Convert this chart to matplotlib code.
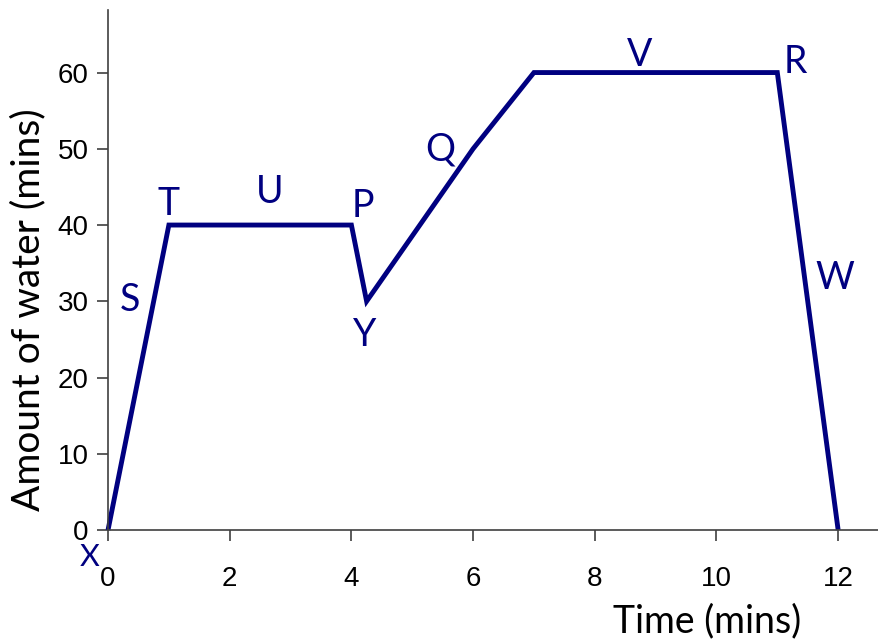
import matplotlib
matplotlib.use("Agg")
import matplotlib.pyplot as plt

# water level over time
time = [0, 1, 4, 4.25, 6, 7, 11, 12]
water = [0, 40, 40, 30, 50, 60, 60, 0]

x_ticks = [0, 2, 4, 6, 8, 10, 12]
y_ticks = [0, 10, 20, 30, 40, 50, 60]

point_names = ["X", "S", "T", "U", "P", "Y", "Q", "V", "R", "W"]

navy = "#000080"
label_font = ["Lato", "DejaVu Sans"]
tick_font = ["Liberation Sans", "DejaVu Sans"]

fig = plt.figure(figsize=(8.79, 6.43), dpi=100)
ax = fig.add_axes([0.1229, 0.1757, 0.877, 0.8087])

ax.plot(time, water, color=navy, linewidth=3.5, solid_joinstyle="miter",
        solid_capstyle="butt", clip_on=False)

ax.set_xlim(0, 12.67)
ax.set_ylim(0, 68.2)
ax.set_xticks(x_ticks)
ax.set_yticks(y_ticks)

for side in ("top", "right"):
    ax.spines[side].set_visible(False)
for side in ("left", "bottom"):
    ax.spines[side].set_color("#404040")
    ax.spines[side].set_linewidth(1.2)
ax.tick_params(axis="both", direction="out", length=8, width=1.2,
               color="#404040", labelsize=20)
ax.tick_params(axis="x", pad=18)
ax.tick_params(axis="y", pad=6)
for lab in ax.get_xticklabels() + ax.get_yticklabels():
    lab.set_family(tick_font)

ax.set_xlabel("Time (mins)", fontsize=27, family=label_font)
ax.xaxis.set_label_coords(0.777, -0.14)
ax.set_ylabel("Amount of water (mins)", fontsize=28, family=label_font)
ax.yaxis.set_label_coords(-0.08, 0.423)

# letter labels placed beside the line
label_pos = {
    "X": (-0.3, -3.6), "S": (0.36, 30.2), "T": (0.99, 42.7),
    "U": (2.66, 44.3), "P": (4.19, 42.5), "Y": (4.22, 25.6),
    "Q": (5.46, 49.9), "V": (8.74, 62.3), "R": (11.29, 61.4),
    "W": (11.95, 33.0),
}
for name in point_names:
    px, py = label_pos[name]
    size = 22 if name == "X" else 27
    ax.text(px, py, name, color=navy, fontsize=size, family=label_font,
            ha="center", va="center", clip_on=False)

fig.savefig("out.png", dpi=100)
